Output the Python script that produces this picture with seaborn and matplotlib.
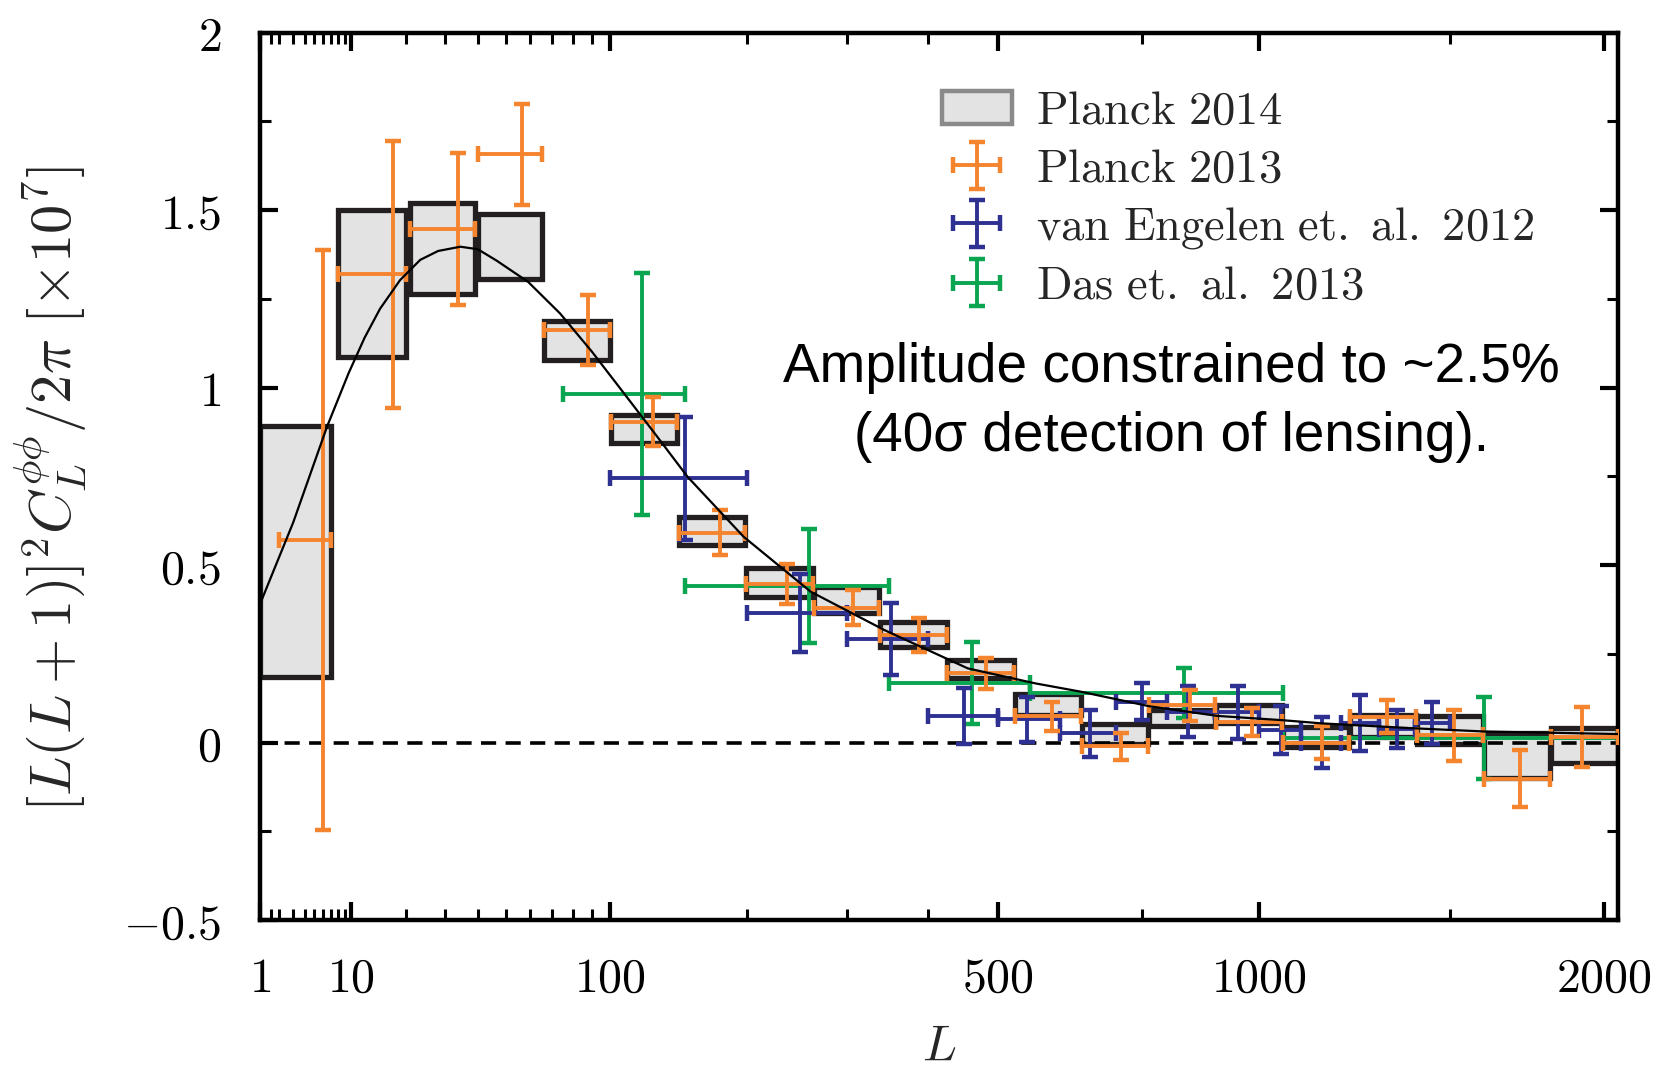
import numpy as np
import matplotlib
matplotlib.use("Agg")
import matplotlib.pyplot as plt
import seaborn as sns
from matplotlib.patches import Patch
from matplotlib.ticker import FixedLocator, FixedFormatter

# ---------------- data ----------------
# Planck 2014 bandpower boxes
box_L_lo = [1, 8, 21, 40, 66, 101, 145, 199, 264, 339, 426, 526, 638, 763, 902, 1055, 1222, 1405, 1603, 1817]
box_L_hi = [7, 20, 39, 65, 100, 144, 198, 263, 338, 425, 525, 637, 762, 901, 1054, 1221, 1404, 1602, 1816, 2048]
box_val_lo = [0.184, 1.087, 1.264, 1.306, 1.078, 0.843, 0.556, 0.411, 0.366, 0.270, 0.181, 0.079,
              -0.004, 0.046, 0.056, -0.012, 0.016, -0.004, -0.101, -0.059]
box_val_hi = [0.891, 1.500, 1.521, 1.488, 1.188, 0.923, 0.636, 0.4925, 0.439, 0.3385, 0.232, 0.1365,
              0.052, 0.093, 0.107, 0.0446, 0.079, 0.0746, 0.0257, 0.040]

# Planck 2013
p13_L = [6, 17.4, 33.7, 56.6, 88, 127.4, 176.8, 237, 306.6, 388, 482, 587, 709, 847, 982, 1150, 1322, 1512, 1718, 1923]
p13_L_lo = [2, 8, 21, 40, 66, 101, 145, 199, 264, 339, 426, 526, 638, 763, 902, 1055, 1222, 1405, 1603, 1817]
p13_L_hi = [7, 20, 39, 65, 100, 144, 198, 263, 338, 425, 525, 637, 762, 901, 1054, 1221, 1404, 1602, 1816, 2048]
p13_val = [0.571, 1.319, 1.447, 1.657, 1.162, 0.904, 0.591, 0.447, 0.380, 0.303, 0.195, 0.074,
           -0.011, 0.105, 0.057, 0.0, 0.073, 0.020, -0.102, 0.0155]
p13_err = [0.818, 0.376, 0.213, 0.143, 0.098, 0.069, 0.063, 0.056, 0.050, 0.049, 0.043, 0.041,
           0.037, 0.043, 0.039, 0.046, 0.047, 0.071, 0.081, 0.0835]

# van Engelen et al. 2012
ve_L = [150, 250, 352, 449, 545, 652, 749, 843, 952, 1050, 1150, 1250, 1350, 1449]
ve_L_lo = [100, 200, 300, 400, 500, 600, 700, 800, 900, 1000, 1100, 1200, 1300, 1400]
ve_L_hi = [200, 300, 400, 500, 600, 700, 800, 900, 1000, 1100, 1200, 1300, 1400, 1500]
ve_val = [0.744, 0.364, 0.292, 0.075, 0.065, 0.026, 0.115, 0.087, 0.085, 0.035, 0.0, 0.055, 0.038, 0.055]
ve_err = [0.172, 0.110, 0.101, 0.079, 0.063, 0.066, 0.052, 0.072, 0.074, 0.068, 0.073, 0.078, 0.054, 0.060]

# Das et al. 2013
das_L = [120, 259, 461, 834, 1603]
das_L_lo = [75, 150, 350, 550, 1055]
das_L_hi = [150, 350, 550, 1055, 2048]
das_val = [0.982, 0.442, 0.167, 0.140, 0.012]
das_err = [0.340, 0.161, 0.115, 0.070, 0.115]

# theory curve
th_L = [1, 3, 6.5, 9.6, 12.1, 14.8, 18.8, 23.4, 28, 34.4, 40, 46.6, 59.1, 73.6, 89.9, 108.2, 128.5,
        151.6, 197, 261, 344, 455, 558, 637, 765, 906, 1054, 1150, 1400, 1608, 2048]
th_val = [0.39, 0.62, 0.89, 1.04, 1.14, 1.222, 1.303, 1.36, 1.385, 1.397, 1.39, 1.358, 1.298, 1.209,
          1.102, 0.986, 0.870, 0.749, 0.58, 0.425, 0.317, 0.209, 0.167, 0.143, 0.102, 0.075, 0.063,
          0.054, 0.040, 0.031, 0.024]

x_major = [1, 10, 100, 500, 1000, 2000]
x_major_labels = ["1", "10", "100", "500", "1000", "2000"]
x_minor = [1.5, 2, 3, 4, 5, 6, 7, 8, 9, 20, 30, 40, 50, 60, 70, 80, 90, 200, 300, 400, 750, 1500]
y_major = [-0.5, 0, 0.5, 1, 1.5, 2]
y_major_labels = [r"$-0.5$", r"$0$", r"$0.5$", r"$1$", r"$1.5$", r"$2$"]
y_minor = [-0.25, 0.25, 0.75, 1.25, 1.75]

legend_labels = [r"$\mathrm{Planck\ 2014}$", r"$\mathrm{Planck\ 2013}$",
                 r"$\mathrm{van\ Engelen\ et.\ al.\ 2012}$", r"$\mathrm{Das\ et.\ al.\ 2013}$"]
note_text = "Amplitude constrained to ~2.5%\n(40\u03c3 detection of lensing)."

# ---------------- style ----------------
sns.set_theme(style="ticks")
plt.rcParams["font.family"] = ["DejaVu Serif"]
plt.rcParams["mathtext.fontset"] = "cm"

c_orange = "#f5842f"
c_blue = "#2e3192"
c_green = "#0aa550"
c_box_face = "#e3e3e3"
c_box_edge = "#231f20"

# x scale: L^0.4 above 10, compressed power below 10
T10 = 10 ** 0.4
CMP = 0.883


def fwd(L):
    L = np.asarray(L, dtype=float)
    Lp = np.power(np.clip(L, 1e-6, None), 0.4)
    return np.where(L >= 10, Lp, T10 - CMP * (T10 - Lp))


def inv(u):
    u = np.asarray(u, dtype=float)
    Lp = np.where(u >= T10, u, T10 - (T10 - u) / CMP)
    return np.power(np.clip(Lp, 1e-6, None), 2.5)


fig = plt.figure(figsize=(16.55, 10.71), dpi=100)
ax = fig.add_axes([260 / 1655, 1 - 920 / 1071, (1618 - 260) / 1655, (920 - 32.7) / 1071])
ax.set_xscale("function", functions=(fwd, inv))
ax.set_xlim(1, 2048)
ax.set_ylim(-0.5, 2)

# boxes
lo = np.array(box_val_lo)
hi = np.array(box_val_hi)
Llo = np.array(box_L_lo, dtype=float)
Lhi = np.array(box_L_hi, dtype=float)
ax.bar(Llo, hi - lo, width=Lhi - Llo, bottom=lo, align="edge",
       facecolor=c_box_face, edgecolor=c_box_edge, linewidth=3.8, zorder=1)

# zero line
ax.axhline(0, color="black", lw=2.6, ls=(0, (4.2, 2.6)), zorder=1.5)

# theory curve
sns.lineplot(x=th_L, y=th_val, ax=ax, color="black", lw=1.6, sort=False,
             estimator=None, zorder=6, legend=False)


def eb(L, v, e, llo, lhi, color, z):
    L = np.array(L, dtype=float)
    xerr = np.vstack([L - np.array(llo), np.array(lhi) - L])
    return ax.errorbar(L, v, yerr=e, xerr=xerr, fmt="none", ecolor=color,
                       elinewidth=2.8, capsize=6, capthick=3.2, zorder=z)


h13 = eb(p13_L, p13_val, p13_err, p13_L_lo, p13_L_hi, c_orange, 4)
hve = eb(ve_L, ve_val, ve_err, ve_L_lo, ve_L_hi, c_blue, 3)
hdas = eb(das_L, das_val, das_err, das_L_lo, das_L_hi, c_green, 2)

# ticks
ax.xaxis.set_major_locator(FixedLocator(x_major))
ax.xaxis.set_major_formatter(FixedFormatter([f"${t}$" for t in x_major_labels]))
ax.xaxis.set_minor_locator(FixedLocator(x_minor))
ax.xaxis.set_minor_formatter(FixedFormatter([""] * len(x_minor)))
ax.yaxis.set_major_locator(FixedLocator(y_major))
ax.yaxis.set_major_formatter(FixedFormatter(y_major_labels))
ax.yaxis.set_minor_locator(FixedLocator(y_minor))

ax.tick_params(which="both", direction="in", top=True, right=True, colors="black")
ax.tick_params(which="major", length=13, width=3, labelsize=34.5)
ax.tick_params(which="minor", length=8, width=2.2)
ax.tick_params(axis="x", which="major", pad=25)
ax.tick_params(axis="y", which="major", pad=28)
for s in ax.spines.values():
    s.set_linewidth(3.2)
    s.set_color("black")

ax.set_xlabel(r"$L$", fontsize=36, labelpad=14)
ax.set_ylabel(r"$[L(L+1)]^2C_L^{\phi\phi}/2\pi\ [\times 10^7]$", fontsize=42)
ax.yaxis.set_label_coords(-0.126, 0.486)

# legend
box_handle = Patch(facecolor=c_box_face, edgecolor="#8a8a8a", linewidth=3.2)
leg = ax.legend([box_handle, h13, hve, hdas], legend_labels, loc="upper left",
                bbox_to_anchor=(0.502, 0.937), frameon=False, fontsize=33.5,
                handlelength=1.5, handletextpad=0.52, labelspacing=0.27,
                borderpad=0, borderaxespad=0)

ax.text(0.671, 0.583, note_text, transform=ax.transAxes, ha="center", va="center",
        fontsize=39.5, family=["Liberation Sans", "DejaVu Sans"], linespacing=1.42, color="black")

fig.savefig("out.png", dpi=100)
